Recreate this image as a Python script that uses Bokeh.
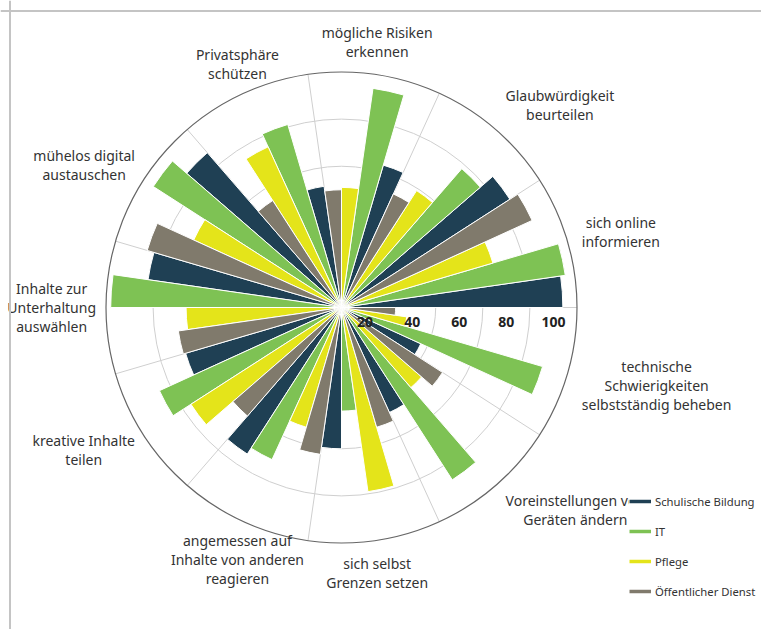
import math
from bokeh.plotting import figure
from bokeh.models import ColumnDataSource, Legend, LegendItem, Span, Range1d
from bokeh.embed import file_html
from bokeh.resources import INLINE
from bokeh.core.properties import value

# ---------------- data ----------------
categories = [
    "sich online\ninformieren",
    "Glaubwürdigkeit\nbeurteilen",
    "mögliche Risiken\nerkennen",
    "Privatsphäre\nschützen",
    "mühelos digital\naustauschen",
    "Inhalte zur\nUnterhaltung\nauswählen",
    "kreative Inhalte\nteilen",
    "angemessen auf\nInhalte von anderen\nreagieren",
    "sich selbst\nGrenzen setzen",
    "Voreinstellungen von\nGeräten ändern",
    "technische\nSchwierigkeiten\nselbstständig beheben",
]
series_names = ["Schulische Bildung", "IT", "Pflege", "Öffentlicher Dienst"]
schulische_bildung = [94, 85, 63, 52, 87, 83, 69, 74, 60, 49, 37]
it = [96, 78, 94, 81, 95, 98, 85, 71, 44, 87, 89]
pflege = [67, 59, 51, 75, 69, 66, 76, 53, 79, 45, 28]
oeffentlicher_dienst = [89, 53, 50, 54, 86, 70, 61, 63, 53, 51, 23]
radial_ticks = [20, 40, 60, 80, 100]

series_values = [schulische_bildung, it, pflege, oeffentlicher_dienst]
colors = ["#1f4054", "#7ec254", "#e4e41a", "#807a6c"]

# ---------------- geometry ----------------
W, H = 761, 629
PX = 2.355            # pixels per value unit
CX, CY = 341, 307     # centre of the polar chart in canvas pixels
RMAX = radial_ticks[-1]

p = figure(width=W, height=H, output_backend="svg", toolbar_location=None,
           x_range=Range1d(-CX / PX, (W - CX) / PX),
           y_range=Range1d(-(H - CY) / PX, CY / PX),
           x_axis_location=None, y_axis_location=None, min_border=0)
p.grid.visible = False
p.outline_line_color = None
p.background_fill_color = "white"

# frame lines (top / left)
p.add_layout(Span(location=(CY - 10.5) / PX, dimension="width", line_color="#c4c4c4", line_width=2))
p.add_layout(Span(location=-(CX - 9.5) / PX, dimension="height", line_color="#c4c4c4", line_width=2))

n = len(categories)
sector = 2 * math.pi / n
bw = sector / len(series_names)

# grid rings
p.circle(x=[0] * (len(radial_ticks) - 1), y=[0] * (len(radial_ticks) - 1), radius=radial_ticks[:-1],
         fill_color=None, line_color="#cfcfcf", line_width=1)
# spokes
sp = [k * sector for k in range(n)]
p.segment(x0=[0] * n, y0=[0] * n, x1=[RMAX * math.cos(a) for a in sp], y1=[RMAX * math.sin(a) for a in sp],
          line_color="#cfcfcf", line_width=1)
# outer ring
p.circle(x=[0], y=[0], radius=[RMAX], fill_color=None, line_color="#666666", line_width=1.2)

# bars
for j, (name, vals, col) in enumerate(zip(series_names, series_values, colors)):
    starts = [k * sector + j * bw for k in range(n)]
    ends = [s + bw for s in starts]
    src = ColumnDataSource(dict(r=vals, s=starts, e=ends))
    p.wedge(x=0, y=0, radius="r", start_angle="s", end_angle="e", source=src,
            fill_color=col, line_color="white", line_width=1)

# radial tick labels
p.text(x=[t - 10 for t in radial_ticks], y=[-14 / PX] * len(radial_ticks), text=[str(t) for t in radial_ticks],
       text_align="center", text_baseline="middle", text_font=value("Noto Sans"),
       text_font_size="14px", text_font_style="bold", text_color="#222222")

# category labels
LINE_H = 17.5
for k, lab in enumerate(categories):
    a = (k + 0.5) * sector
    cw = (90 - math.degrees(a)) % 360          # clockwise from top
    lines = lab.split("\n")
    h = len(lines) * LINE_H
    dist = 15
    if cw < 25 or cw > 335 or 155 < cw < 205:
        anc = "center"
    elif cw < 180:
        anc = "center_left"
    else:
        anc = "center_right"
        dist = 10
    R = (RMAX * PX + dist) / PX
    x = R * math.cos(a)
    y = R * math.sin(a) + math.cos(math.radians(cw)) * h / 2 / PX
    p.text(x=[x], y=[y], text=[lab], anchor=anc,
           text_align="center", text_baseline="middle", text_font=value("Noto Sans"),
           text_font_size="14px", text_color="#333333", text_line_height=1.0)

# legend
items = []
for name, col in zip(series_names, colors):
    r = p.line(x=[float("nan")] * 2, y=[float("nan")] * 2, line_color=col, line_width=3.5)
    items.append(LegendItem(label=name, renderers=[r]))
legend = Legend(items=items, location=(629, 30), orientation="vertical",
                glyph_width=22, glyph_height=16, label_height=16, label_standoff=4,
                spacing=14, padding=4, margin=0,
                label_text_font="Noto Sans", label_text_font_size="11.3px", label_text_color="#333333",
                border_line_color=None, background_fill_color="white", background_fill_alpha=1)
p.add_layout(legend)

open("out.html", "w").write(file_html(p, INLINE))
